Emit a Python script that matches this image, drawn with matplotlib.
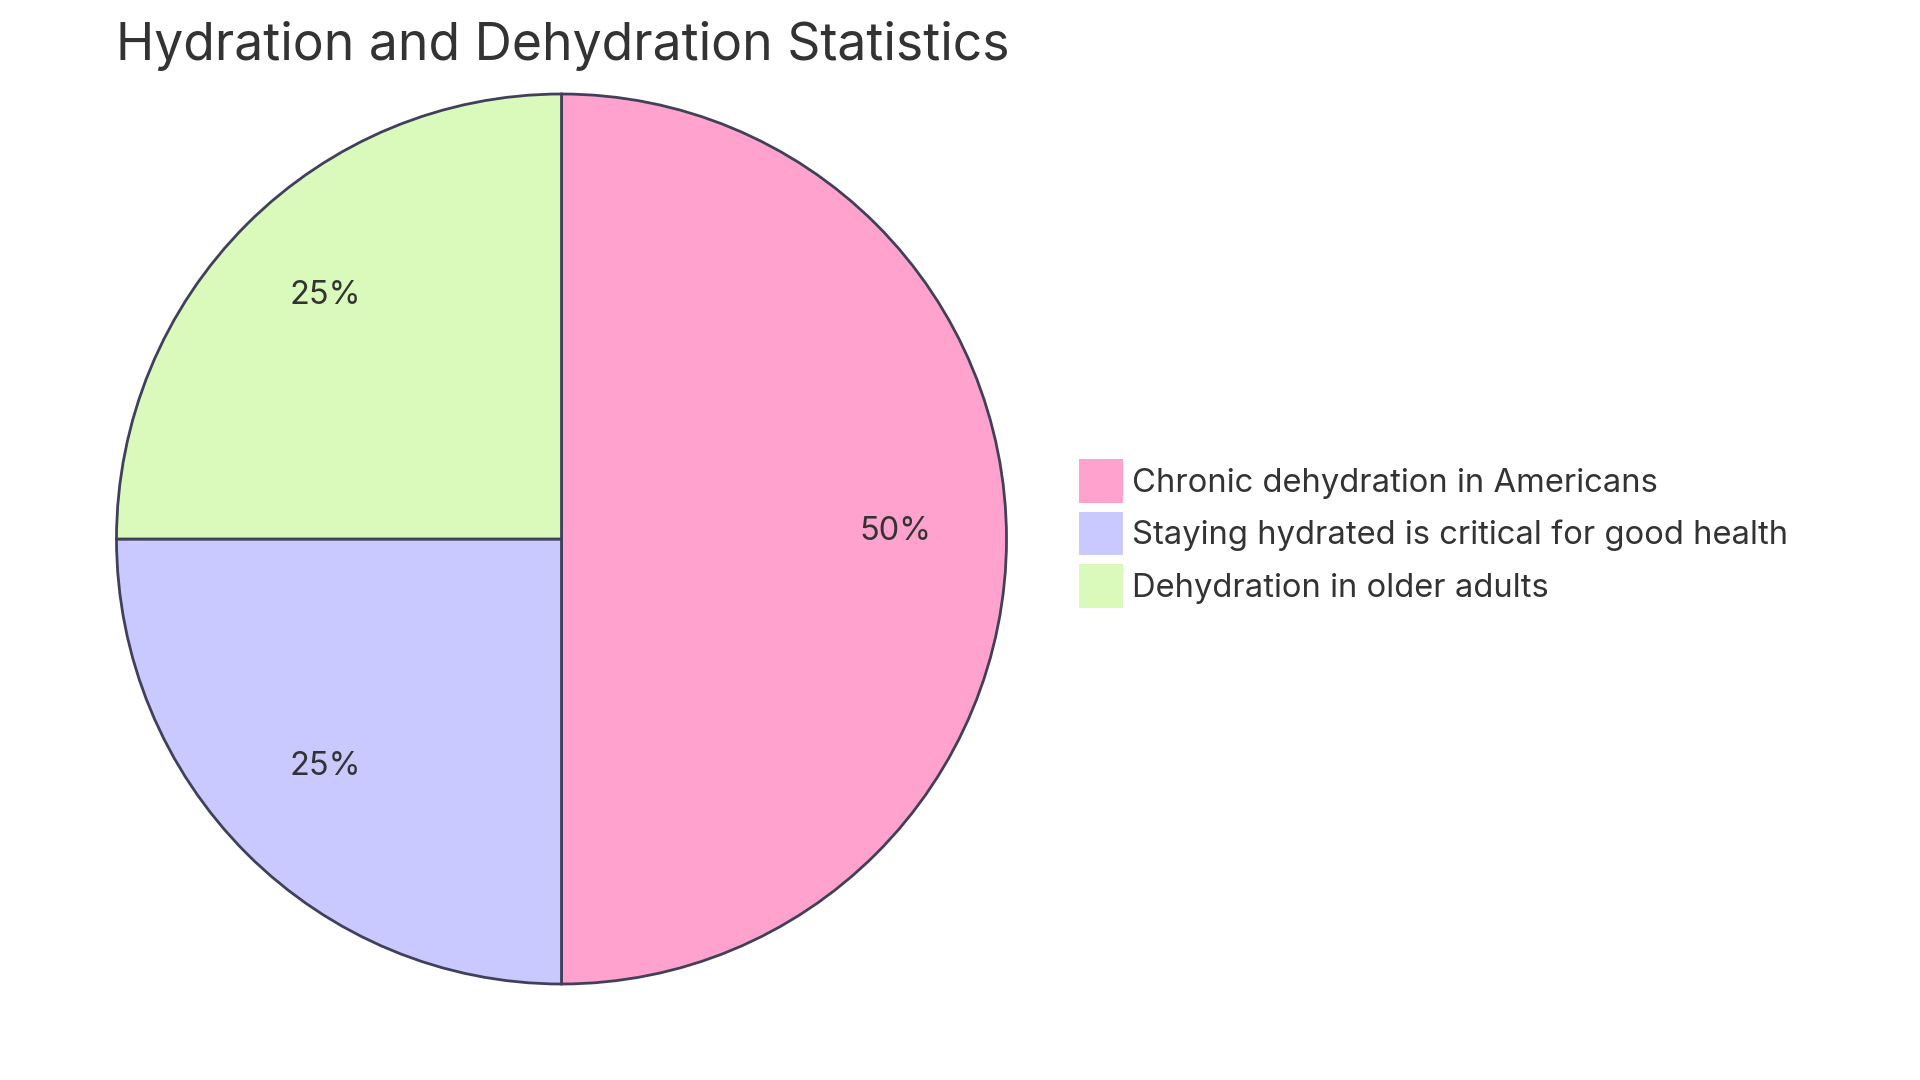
import matplotlib.pyplot as plt
from matplotlib.transforms import offset_copy

plt.rcParams['font.family'] = ['Inter', 'DejaVu Sans']

labels = ['Chronic dehydration in Americans',
          'Staying hydrated is critical for good health',
          'Dehydration in older adults']
values = [50, 25, 25]
colors = ['#FFA3CE', '#C9C9FF', '#DAFABC']
edge = '#41405A'
text_col = '#333333'

W, H = 1920, 1080
fig = plt.figure(figsize=(W / 100, H / 100), dpi=100)

# pie centre / radius in pixels
cx, cy, r = 561.5, 539, 445
ax = fig.add_axes([(cx - r) / W, (H - cy - r) / H, 2 * r / W, 2 * r / H])

wedges, texts, autotexts = ax.pie(
    values, colors=colors, startangle=90, counterclock=False,
    autopct='%1.0f%%', pctdistance=0.75,
    wedgeprops=dict(edgecolor=edge, linewidth=2),
    textprops=dict(color=text_col, fontsize=23.4))
# labels sit a little above the true centroid in the reference
for t in autotexts:
    t.set_transform(offset_copy(ax.transData, fig=fig, y=8, units='dots'))
ax.set_xlim(-1, 1)
ax.set_ylim(-1, 1)
ax.set_aspect('equal')
ax.axis('off')

fig.text(116 / W, 1 - 46 / H, 'Hydration and Dehydration Statistics',
         fontsize=37.2, color=text_col, va='center', ha='left')

ax.legend(wedges, labels, loc='upper left',
          bbox_to_anchor=(1079 / W, 1 - 459 / H), bbox_transform=fig.transFigure,
          frameon=False, borderpad=0, borderaxespad=0,
          fontsize=23.6, handlelength=1.33, handleheight=1.68,
          handletextpad=0.3, labelspacing=0.27, labelcolor=text_col)
for h in ax.get_legend().legend_handles:
    h.set_edgecolor('none')

fig.savefig('out.png', dpi=100)
